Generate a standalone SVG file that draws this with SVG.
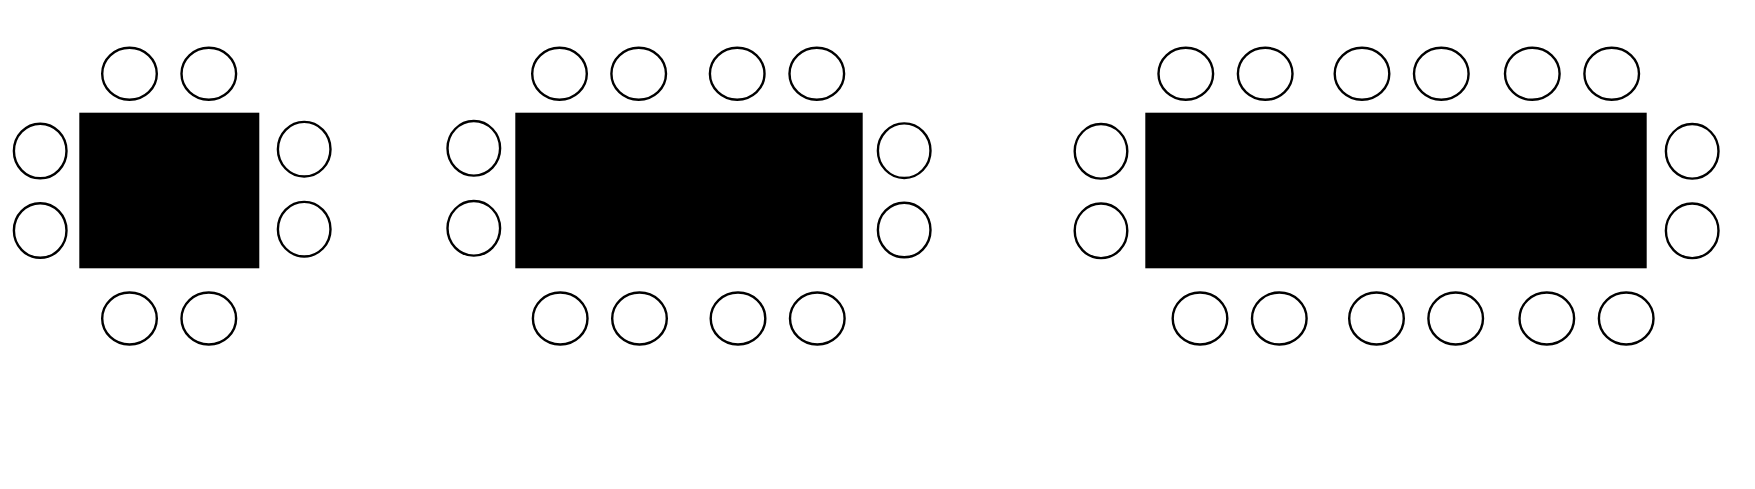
<svg xmlns="http://www.w3.org/2000/svg" width="1755" height="489" viewBox="0 0 1755 489">
<style>
.table{fill:#000;stroke:none}
.chair{fill:#fff;stroke:#000;stroke-width:2.4}
</style>
<rect width="1755" height="489" fill="#fff"/>
<g id="table1">
<rect class="table" x="79.3" y="112.7" width="180" height="155.6"/>
<ellipse class="chair" cx="129.5" cy="73.8" rx="27.3" ry="26"/>
<ellipse class="chair" cx="208.8" cy="73.8" rx="27.3" ry="26"/>
<ellipse class="chair" cx="40.2" cy="151" rx="26.3" ry="27.3"/>
<ellipse class="chair" cx="40.2" cy="230.5" rx="26.3" ry="27.3"/>
<ellipse class="chair" cx="304.2" cy="149.2" rx="26.3" ry="27.3"/>
<ellipse class="chair" cx="304.2" cy="229.2" rx="26.3" ry="27.3"/>
<ellipse class="chair" cx="129.5" cy="318.5" rx="27.3" ry="26"/>
<ellipse class="chair" cx="208.8" cy="318.5" rx="27.3" ry="26"/>
</g>
<g id="table2">
<rect class="table" x="515.3" y="112.7" width="347.4" height="155.6"/>
<ellipse class="chair" cx="559.5" cy="73.8" rx="27.3" ry="26"/>
<ellipse class="chair" cx="638.7" cy="73.8" rx="27.3" ry="26"/>
<ellipse class="chair" cx="737.2" cy="73.8" rx="27.3" ry="26"/>
<ellipse class="chair" cx="816.8" cy="73.8" rx="27.3" ry="26"/>
<ellipse class="chair" cx="473.8" cy="148.3" rx="26.3" ry="27.3"/>
<ellipse class="chair" cx="473.8" cy="228.3" rx="26.3" ry="27.3"/>
<ellipse class="chair" cx="904.2" cy="150.7" rx="26.3" ry="27.3"/>
<ellipse class="chair" cx="904.2" cy="230" rx="26.3" ry="27.3"/>
<ellipse class="chair" cx="560.2" cy="318.5" rx="27.3" ry="26"/>
<ellipse class="chair" cx="639.5" cy="318.5" rx="27.3" ry="26"/>
<ellipse class="chair" cx="738" cy="318.5" rx="27.3" ry="26"/>
<ellipse class="chair" cx="817.3" cy="318.5" rx="27.3" ry="26"/>
</g>
<g id="table3">
<rect class="table" x="1145.3" y="112.7" width="501.4" height="155.6"/>
<ellipse class="chair" cx="1185.8" cy="73.8" rx="27.3" ry="26"/>
<ellipse class="chair" cx="1265.2" cy="73.8" rx="27.3" ry="26"/>
<ellipse class="chair" cx="1362" cy="73.8" rx="27.3" ry="26"/>
<ellipse class="chair" cx="1441.3" cy="73.8" rx="27.3" ry="26"/>
<ellipse class="chair" cx="1532.3" cy="73.8" rx="27.3" ry="26"/>
<ellipse class="chair" cx="1611.7" cy="73.8" rx="27.3" ry="26"/>
<ellipse class="chair" cx="1101" cy="151.3" rx="26.3" ry="27.3"/>
<ellipse class="chair" cx="1101" cy="230.8" rx="26.3" ry="27.3"/>
<ellipse class="chair" cx="1692.2" cy="151.3" rx="26.3" ry="27.3"/>
<ellipse class="chair" cx="1692.2" cy="230.8" rx="26.3" ry="27.3"/>
<ellipse class="chair" cx="1200" cy="318.5" rx="27.3" ry="26"/>
<ellipse class="chair" cx="1279.3" cy="318.5" rx="27.3" ry="26"/>
<ellipse class="chair" cx="1376.5" cy="318.5" rx="27.3" ry="26"/>
<ellipse class="chair" cx="1455.7" cy="318.5" rx="27.3" ry="26"/>
<ellipse class="chair" cx="1546.8" cy="318.5" rx="27.3" ry="26"/>
<ellipse class="chair" cx="1626.2" cy="318.5" rx="27.3" ry="26"/>
</g>
<g id="connectors"/>
</svg>
